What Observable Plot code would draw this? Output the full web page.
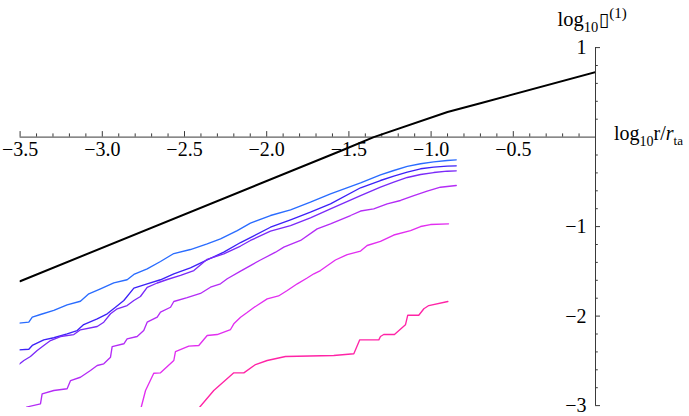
<!DOCTYPE html>
<html><head><meta charset="utf-8">
<script src="https://cdn.jsdelivr.net/npm/d3@7"></script>
<script src="https://cdn.jsdelivr.net/npm/@observablehq/plot@0.6"></script>
<style>html,body{margin:0;padding:0;background:#fff}svg{display:block}</style>
</head><body><div id="chart"></div>
<script>
// ---- data (log10 r/r_ta , log10 value) ----
const blackCurve = [[-3.5,-1.61],[-1.551,-0.155],[-1.349,0],[-0.9,0.28],[-0.7,0.379],[0,0.727]];

const series1 = [[-3.508,-2.079],[-3.447,-2.068],[-3.426,-2.012],[-3.376,-1.982],[-3.295,-1.937],[-3.214,-1.874],[-3.133,-1.834],[-3.082,-1.751],[-3.011,-1.695],[-2.930,-1.628],[-2.849,-1.594],[-2.808,-1.535],[-2.727,-1.472],[-2.646,-1.390],[-2.565,-1.301],[-2.464,-1.256],[-2.362,-1.192],[-2.281,-1.136],[-2.179,-1.044],[-2.099,-0.962],[-1.977,-0.876],[-1.855,-0.812],[-1.734,-0.727],[-1.612,-0.634],[-1.429,-0.511],[-1.308,-0.423],[-1.227,-0.373],[-1.145,-0.328],[-1.064,-0.298],[-0.984,-0.276],[-0.902,-0.261],[-0.847,-0.254]];

const series2 = [[-3.508,-2.377],[-3.447,-2.370],[-3.426,-2.328],[-3.356,-2.265],[-3.295,-2.242],[-3.214,-2.198],[-3.153,-2.161],[-3.113,-2.094],[-3.031,-2.030],[-2.970,-1.974],[-2.920,-1.901],[-2.869,-1.826],[-2.808,-1.688],[-2.727,-1.639],[-2.646,-1.594],[-2.565,-1.527],[-2.464,-1.460],[-2.362,-1.371],[-2.261,-1.286],[-2.159,-1.178],[-2.099,-1.122],[-1.977,-1.007],[-1.855,-0.924],[-1.734,-0.839],[-1.612,-0.745],[-1.429,-0.566],[-1.308,-0.485],[-1.227,-0.435],[-1.145,-0.392],[-1.064,-0.354],[-0.984,-0.336],[-0.902,-0.325],[-0.847,-0.321]];

const series3 = [[-3.508,-2.541],[-3.477,-2.496],[-3.437,-2.451],[-3.396,-2.384],[-3.356,-2.328],[-3.315,-2.273],[-3.254,-2.228],[-3.173,-2.206],[-3.133,-2.153],[-3.031,-2.116],[-2.991,-2.068],[-2.950,-1.974],[-2.909,-1.918],[-2.849,-1.882],[-2.808,-1.826],[-2.768,-1.781],[-2.727,-1.680],[-2.666,-1.630],[-2.605,-1.591],[-2.524,-1.546],[-2.443,-1.491],[-2.362,-1.365],[-2.261,-1.304],[-2.159,-1.217],[-2.099,-1.155],[-1.977,-1.051],[-1.855,-0.988],[-1.734,-0.902],[-1.612,-0.801],[-1.429,-0.653],[-1.308,-0.558],[-1.227,-0.502],[-1.145,-0.451],[-1.064,-0.418],[-0.984,-0.396],[-0.902,-0.381],[-0.847,-0.377]];

const series4 = [[-3.461,-3.016],[-3.376,-2.980],[-3.366,-2.868],[-3.295,-2.831],[-3.214,-2.812],[-3.193,-2.720],[-3.133,-2.683],[-3.072,-2.608],[-3.031,-2.552],[-2.991,-2.533],[-2.950,-2.459],[-2.940,-2.340],[-2.869,-2.309],[-2.849,-2.254],[-2.788,-2.228],[-2.748,-2.161],[-2.727,-2.068],[-2.666,-2.012],[-2.646,-1.956],[-2.585,-1.901],[-2.565,-1.837],[-2.484,-1.794],[-2.403,-1.747],[-2.342,-1.677],[-2.281,-1.639],[-2.240,-1.583],[-2.159,-1.498],[-2.099,-1.435],[-2.038,-1.373],[-1.946,-1.286],[-1.896,-1.230],[-1.794,-1.155],[-1.693,-1.025],[-1.612,-0.969],[-1.490,-0.876],[-1.429,-0.826],[-1.349,-0.801],[-1.267,-0.745],[-1.186,-0.708],[-1.105,-0.653],[-1.024,-0.604],[-0.943,-0.560],[-0.847,-0.541]];

const series5 = [[-2.763,-3.016],[-2.737,-2.831],[-2.687,-2.638],[-2.646,-2.634],[-2.565,-2.496],[-2.555,-2.396],[-2.474,-2.336],[-2.413,-2.328],[-2.362,-2.217],[-2.301,-2.206],[-2.220,-2.150],[-2.200,-2.086],[-2.159,-2.012],[-2.119,-1.960],[-2.078,-1.904],[-1.997,-1.807],[-1.928,-1.775],[-1.875,-1.714],[-1.814,-1.639],[-1.754,-1.574],[-1.713,-1.527],[-1.673,-1.491],[-1.582,-1.373],[-1.510,-1.312],[-1.429,-1.273],[-1.389,-1.211],[-1.308,-1.166],[-1.227,-1.094],[-1.125,-1.044],[-1.064,-0.999],[-1.004,-0.977],[-0.894,-0.969]];

const series6 = [[-2.407,-3.016],[-2.322,-2.831],[-2.200,-2.634],[-2.139,-2.634],[-2.068,-2.541],[-1.997,-2.496],[-1.886,-2.451],[-1.592,-2.440],[-1.470,-2.421],[-1.434,-2.265],[-1.318,-2.265],[-1.308,-2.228],[-1.288,-2.206],[-1.223,-2.206],[-1.156,-2.097],[-1.142,-1.990],[-1.075,-1.990],[-1.044,-1.918],[-1.014,-1.882],[-0.898,-1.837]];

const seriesList = [series1, series2, series3, series4, series5, series6];
const seriesColors = ["#2a6cff", "#3d22f8", "#7b2af8", "#b42cf6", "#e22ef0", "#ff24a6"];

const xLabelTicks = [-3.5, -3.0, -2.5, -2.0, -1.5, -1.0, -0.5];
const xTickLabels = ["−3.5", "−3.0", "−2.5", "−2.0", "−1.5", "−1.0", "−0.5"];
const xMajor = [-3.5, -3.0, -2.5, -2.0, -1.5, -1.0, -0.5];
const yLabelTicks = [1, -1, -2, -3];
const yTickLabels = ["1", "−1", "−2", "−3"];
const yMajor = [1, -1, -2, -3];
const xMinor = d3.range(-35, 0).map(i => i / 10).filter(v => Math.abs(v * 2 - Math.round(v * 2)) > 1e-6);
const yMinor = d3.range(-15, 6).map(i => i / 5).filter(v => Math.abs(v - Math.round(v)) > 1e-6);

// ---- chart ----
const serif = "Liberation Serif, Times New Roman, Times, serif";
const axisColor = "#3a3a3a";

const rows = [];
seriesList.forEach((s, k) => s.forEach(([x, y]) => rows.push({x, y, s: "s" + (k + 1)})));

const chart = Plot.plot({
  width: 689,
  height: 416,
  marginLeft: 19.6,
  marginRight: 94,
  marginTop: 47.1,
  marginBottom: 9.1,
  x: {domain: [-3.5, 0], axis: null},
  y: {domain: [-3.02, 1], axis: null},
  color: {domain: seriesList.map((_, k) => "s" + (k + 1)), range: seriesColors},
  style: {background: "#fff", fontFamily: serif, overflow: "visible"},
  marks: [
    Plot.ruleY([0], {x1: -3.5, x2: 0, stroke: axisColor, strokeWidth: 1}),
    Plot.ruleX([0], {y1: -3, y2: 1, stroke: axisColor, strokeWidth: 1}),
    Plot.ruleX(xMajor, {x: d => d, y1: 0, y2: 0, insetTop: -5.5, stroke: axisColor, strokeWidth: 1}),
    Plot.ruleX(xMinor, {x: d => d, y1: 0, y2: 0, insetTop: -3.2, stroke: axisColor, strokeWidth: 1}),
    Plot.ruleY(yMajor, {y: d => d, x1: 0, x2: 0, insetRight: -5, stroke: axisColor, strokeWidth: 1}),
    Plot.ruleY(yMinor, {y: d => d, x1: 0, x2: 0, insetRight: -2.8, stroke: axisColor, strokeWidth: 1}),
    Plot.text(xLabelTicks, {x: d => d, y: 0, text: (d, i) => xTickLabels[i], lineAnchor: "bottom", dy: 18.4, fontSize: 20, fill: "#000", fontFamily: serif}),
    Plot.text(yLabelTicks, {x: 0, y: d => d, text: (d, i) => yTickLabels[i], textAnchor: "end", lineAnchor: "middle", dx: -9, fontSize: 20, fill: "#000", fontFamily: serif}),
    Plot.line(rows, {x: "x", y: "y", z: "s", stroke: "s", strokeWidth: 1.35, clip: true, curve: "linear", strokeLinejoin: "round"}),
    Plot.line(blackCurve, {x: d => d[0], y: d => d[1], stroke: "#000", strokeWidth: 2, clip: true})
  ]
});

document.getElementById("chart").appendChild(chart);

// axis labels with sub/superscripts, positioned from the plot's scales
const sx = chart.scale("x"), sy = chart.scale("y");
const X = d3.scaleLinear(sx.domain, sx.range), Y = d3.scaleLinear(sy.domain, sy.range);
const svg = d3.select(chart);

const xl = svg.append("text").attr("x", X(0) + 19).attr("y", Y(0) + 3.5)
  .attr("text-anchor", "start")
  .attr("font-family", serif).attr("font-size", 20).attr("fill", "#000");
xl.append("tspan").text("log");
xl.append("tspan").attr("font-size", 14).attr("dy", 6).text("10");
xl.append("tspan").attr("dy", -6).text("r/");
xl.append("tspan").attr("font-style", "italic").text("r");
xl.append("tspan").attr("font-size", 13).attr("dy", 5).text("ta");

const yl = svg.append("text").attr("x", X(0) - 37.5).attr("y", Y(1) - 21.5)
  .attr("text-anchor", "start")
  .attr("font-family", serif).attr("font-size", 20.5).attr("fill", "#000");
yl.append("tspan").text("log");
yl.append("tspan").attr("font-size", 14.5).attr("dy", 6).text("10");
yl.append("tspan").attr("dy", -6).attr("dx", 0.5).attr("font-family", "DejaVu Sans, sans-serif").attr("font-size", 19).text("▯");
yl.append("tspan").attr("font-size", 15).attr("dy", -8).text("(1)");
</script>
</body></html>
